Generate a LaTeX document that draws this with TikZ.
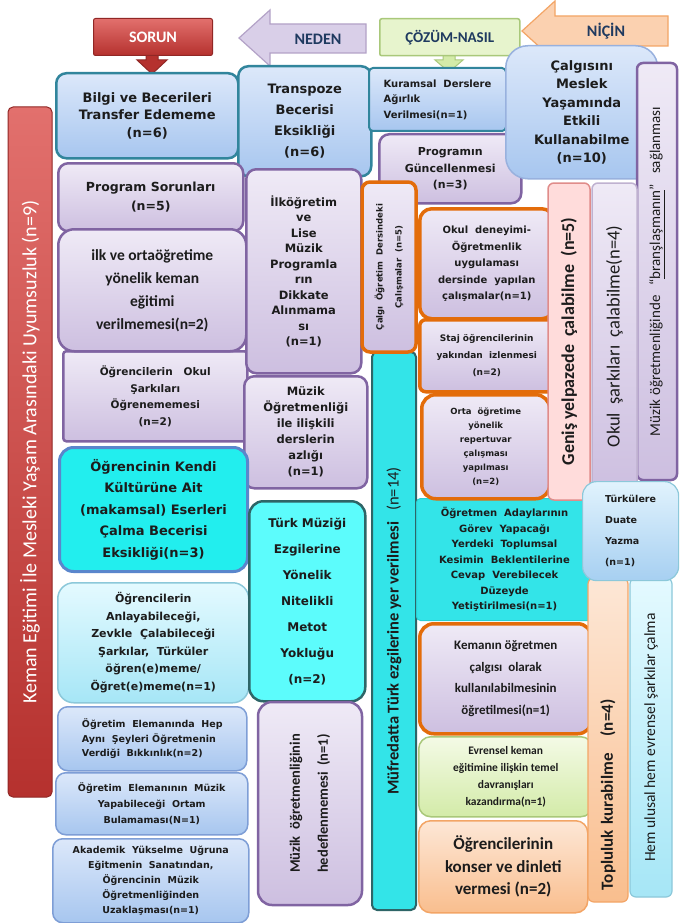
\documentclass[tikz,border=0pt]{standalone}
\usepackage{fontspec}
\setmainfont{Carlito}
\newfontfamily\verd{DejaVu Sans}
\newcommand\vfont[2]{\verd\bfseries\fontsize{#1}{#2}\selectfont}
\newcommand\cfontb[2]{\bfseries\fontsize{#1}{#2}\selectfont}
\newcommand\cfontr[2]{\fontsize{#1}{#2}\selectfont}
\definecolor{tealb}{HTML}{31859C}
\definecolor{sky1}{HTML}{DCE8FA}
\definecolor{sky2}{HTML}{A7C6EF}
\definecolor{skyb}{HTML}{7E9ED6}
\definecolor{purpb}{HTML}{8064A2}
\definecolor{lav1}{HTML}{EFEAF6}
\definecolor{lav2}{HTML}{CDBFE0}
\definecolor{orb}{HTML}{E36C0A}
\definecolor{cyanf}{HTML}{22EEEE}
\definecolor{cyanb}{HTML}{5A86CC}
\definecolor{cyanbar}{HTML}{33E4E8}
\definecolor{aqua1}{HTML}{E4FAFF}
\definecolor{aqua2}{HTML}{A6E6F6}
\definecolor{aquab}{HTML}{8CC8DA}
\definecolor{turkf}{HTML}{5CFCFC}
\definecolor{darkteal}{HTML}{2E6567}
\definecolor{green1}{HTML}{F4FAE6}
\definecolor{green2}{HTML}{D3EBA8}
\definecolor{greenb}{HTML}{A9C87A}
\definecolor{peach1}{HTML}{FDE7D6}
\definecolor{peach2}{HTML}{F9BE8E}
\definecolor{peachb}{HTML}{F3A566}
\definecolor{pink1}{HTML}{FFDCDB}
\definecolor{pinkb}{HTML}{E08C8A}
\definecolor{red1}{HTML}{E2706D}
\definecolor{red2}{HTML}{B5312E}
\definecolor{navy}{HTML}{1F3A60}
\definecolor{txt}{HTML}{1C1C1C}
\tikzset{
    sz/.style 2 args={minimum width=#1pt, minimum height=#2pt},
    blk/.style={
        anchor=north west,
        rounded corners=10pt,
        line width=2.5pt,
        align=center,
        inner sep=2pt,
        text=txt,
    },
    vbar/.style={
        anchor=center,
        rotate=90,
        align=center,
        inner sep=1pt,
        text=txt,
    },
    tealbox/.style={blk, draw=tealb, top color=sky1, bottom color=sky2},
    purpbox/.style={blk, draw=purpb, top color=lav1, bottom color=lav2},
    orbox/.style={blk, draw=orb, line width=3.5pt, top color=lav1, bottom color=lav2},
    skybox/.style={blk, draw=skyb, line width=1.5pt, top color=sky1, bottom color=sky2},
    aquabox/.style={blk, draw=aquab, line width=1.5pt, top color=aqua1, bottom color=aqua2},
    hdtxt/.style={text=navy, font=\cfontb{16}{18}},
}
\begin{document}
\begin{tikzpicture}[x=1pt,y=-1pt]
\useasboundingbox (0,0) rectangle (680,923);
\fill[white] (0,0) rectangle (680,923);

\node[vbar, sz={690}{44}, draw=red2!80!black, line width=1pt, rounded corners=5pt, top color=red1, bottom color=red2, text=white, font=\cfontr{20}{24}] (uyum) at (30,452) {Keman Eğitimi İle Mesleki Yaşam Arasındaki Uyumsuzluk (n=9)};

\draw[line width=1.2pt, draw=purpb!60, fill=lav2!75] (239,38) -- (270,10) -- (270,24) -- (366,24) -- (366,53) -- (270,53) -- (270,66) -- cycle;
\node[hdtxt] (neden) at (318,39) {NEDEN};
\draw[line width=1.2pt, draw=peachb, fill=peach2!70] (522,31) -- (555,1) -- (555,16) -- (668,16) -- (668,46) -- (555,46) -- (555,61) -- cycle;
\node[hdtxt] (nicin) at (606,31) {NİÇİN};
\draw[line width=1pt, draw=red2!80!black, fill=red2] (146,55) -- (158,55) -- (158,60) -- (167,60) -- (152,74) -- (137,60) -- (146,60) -- cycle;
\node[blk, draw=red2!80!black, line width=1pt, top color=red1, bottom color=red2, rounded corners=2pt, sz={119}{37}, text=white, font=\cfontb{16}{18}] (sorun) at (93,18) {SORUN};
\draw[line width=1pt, draw=greenb, fill=green2] (443,55) -- (455,55) -- (455,60) -- (463,60) -- (449,72) -- (435,60) -- (443,60) -- cycle;
\node[blk, draw=greenb, line width=1.5pt, fill=green1!60!green2, rounded corners=2pt, sz={140}{37}, text=navy, font=\cfontb{15}{18}] (cozum) at (379,18) {ÇÖZÜM-NASIL};

\node[tealbox, sz={182}{85}, font=\vfont{13}{17.5}] (bilgi) at (55,72) {Bilgi ve Becerileri\\Transfer Edememe\\(n=6)};
\node[tealbox, sz={133}{110}, font=\vfont{13}{21}] (transpoze) at (237,65) {Transpoze\\Becerisi\\Eksikliği\\(n=6)};
\node[purpbox, sz={185}{68}, font=\vfont{12.5}{19}] (progsor) at (57,162) {Program Sorunları\\(n=5)};
\node[purpbox, sz={184}{90}, rounded corners=3pt, font=\vfont{10.5}{16.5}] (okulsark) at (62,350) {Öğrencilerin\ \ \ Okul\\Şarkıları\\Öğrenememesi\\(n=2)};
\node[purpbox, sz={188}{122}, rounded corners=16pt, font=\cfontb{15.5}{23}] (ilkorta) at (57,228) {ilk ve ortaöğretime\\yönelik keman\\eğitimi\\verilmemesi(n=2)};
\node[purpbox, sz={115}{204}, font=\vfont{11.5}{15.5}] (ilkogr) at (245,168) {İlköğretim\\ve\\Lise\\Müzik\\Programla\\rın\\Dikkate\\Alınmama\\sı\\(n=1)};
\node[purpbox, sz={123}{112}, font=\vfont{11.5}{16}] (mzkders) at (243,375) {Müzik\\Öğretmenliği\\ile ilişkili\\derslerin\\azlığı\\(n=1)};
\node[blk, draw=cyanb, fill=cyanf, line width=3pt, rounded corners=14pt, sz={188}{124}, font=\vfont{13}{21.5}] (kendi) at (58,446) {Öğrencinin Kendi\\Kültürüne Ait\\(makamsal) Eserleri\\Çalma Becerisi\\Eksikliği(n=3)};
\node[aquabox, sz={191}{120}, rounded corners=16pt, font=\vfont{11}{17.5}] (anlay) at (57,582) {Öğrencilerin\\Anlayabileceği,\\Zevkle\ \ Çalabileceği\\Şarkılar,\ \ Türküler\\öğren(e)meme/\\Öğret(e)meme(n=1)};
\node[skybox, sz={189}{64}, align=left, font=\vfont{9.5}{14.5}] (hep) at (57,706) {Öğretim\ \ Elemanında\ \ Hep\\Aynı\ \ Şeyleri Öğretmenin\\Verdiği\ \ Bıkkınlık(n=2)};
\node[skybox, sz={192}{62}, font=\vfont{9.5}{16}] (ortam) at (55,772) {Öğretim\ \ Elemanının\ \ Müzik\\Yapabileceği\ \ Ortam\\Bulamaması(N=1)};
\node[skybox, sz={196}{84}, font=\vfont{9.5}{15}] (akad) at (52,838) {Akademik\ \ Yükselme\ \ Uğruna\\Eğitmenin\ \ Sanatından,\\Öğrencinin\ \ Müzik\\Öğretmenliğinden\\Uzaklaşması(n=1)};
\node[blk, draw=darkteal, fill=turkf, rounded corners=14pt, sz={116}{200}, font=\vfont{12}{26}] (turk) at (248,500) {Türk Müziği\\Ezgilerine\\Yönelik\\Nitelikli\\Metot\\Yokluğu\\(n=2)};
\node[purpbox, vbar, sz={203}{104}, rounded corners=14pt, font=\cfontb{14.5}{28}] (hedef) at (310,803.5) {Müzik\ \ öğretmenliğinin\\hedeflenmemesi\ \ (n=1)};

\node[tealbox, line width=2pt, rounded corners=4pt, sz={137}{63}, align=left, font=\vfont{10}{15.5}] (kuram) at (368,67) {Kuramsal\ \ Derslere\\Ağırlık\\Verilmesi(n=1)};
\node[purpbox, sz={142}{69}, font=\vfont{11}{16.5}] (progun) at (378,133) {Programın\\Güncellenmesi\\(n=3)};
\node[vbar, draw=darkteal, fill=cyanbar, line width=2pt, sz={558}{44}, rounded corners=5pt, font=\cfontr{16.5}{20}] (mufred) at (394,631) {\textbf{Müfredatta Türk ezgilerine yer verilmesi}\ \ \ (n=14)};
\node[orbox, vbar, sz={170}{54}, rounded corners=8pt, font=\vfont{8.5}{19}] (calgi) at (389,267) {Çalgı\ \ Öğretim\ \ Dersindeki\\Çalışmalar\ \ (n=5)};
\node[orbox, sz={134}{110}, rounded corners=12pt, font=\vfont{10}{16.5}] (okuldeney) at (418,207) {Okul\ \ deneyimi-\\Öğretmenlik\\uygulaması\\dersinde\ \ yapılan\\çalışmalar(n=1)};
\node[orbox, sz={134}{72}, rounded corners=6pt, font=\vfont{9}{17}] (staj) at (418,318) {Staj öğrencilerinin\\yakından\ \ izlenmesi\\(n=2)};
\node[blk, draw=cyanbar!80!teal, fill=cyanbar, line width=1pt, rounded corners=4pt, sz={176}{122}, font=\vfont{10}{15.5}] (aday) at (416,498) {Öğretmen\ \ Adaylarının\\Görev\ \ Yapacağı\\Yerdeki\ \ Toplumsal\\Kesimin\ \ Beklentilerine\\Cevap\ \ Verebilecek\\Düzeyde\\Yetiştirilmesi(n=1)};
\node[orbox, sz={128}{104}, rounded corners=14pt, font=\vfont{8.5}{14}] (ortaogr) at (420,393) {Orta\ \ öğretime\\yönelik\\repertuvar\\çalışması\\yapılması\\(n=2)};
\node[orbox, sz={172}{110}, rounded corners=14pt, font=\cfontb{13}{21.5}] (kemanogr) at (418,622) {Kemanın öğretmen\\çalgısı\ \ olarak\\kullanılabilmesinin\\öğretilmesi(n=1)};
\node[blk, draw=greenb, line width=1.5pt, top color=green1, bottom color=green2, rounded corners=12pt, sz={174}{80}, font=\cfontb{11.5}{17}] (evrensel) at (418,736) {Evrensel keman\\eğitimine ilişkin temel\\davranışları\\kazandırma(n=1)};
\node[blk, draw=peachb, line width=1.5pt, top color=peach1, bottom color=peach2, rounded corners=12pt, sz={169}{92}, font=\cfontb{17}{22.5}] (konser) at (418,820) {Öğrencilerinin\\konser ve dinleti\\vermesi (n=2)};

\node[blk, draw=skyb!80, line width=1.5pt, top color=sky1, bottom color=sky2, rounded corners=22pt, sz={152}{133}, font=\vfont{13}{18.5}] (calgisini) at (505,45) {Çalgısını\\Meslek\\Yaşamında\\Etkili\\Kullanabilme\\(n=10)};
\node[purpbox, vbar, sz={417}{40}, rounded corners=6pt, font=\cfontr{15}{18}] (brans) at (657,271.5) {Müzik öğretmenliğinde\ \ \ “\underline{branşlaşmanın}”\ \ \ sağlanması};
\node[vbar, draw=pinkb, line width=1.5pt, fill=pink1, sz={317}{42}, rounded corners=6pt, font=\cfontb{18}{20}] (genis) at (569,341.5) {Geniş yelpazede\ \ çalabilme\ \ (n=5)};
\node[vbar, draw=purpb!50, line width=1.5pt, top color=lav1, bottom color=lav2, sz={307}{45}, rounded corners=6pt, font=\cfontr{18.5}{20}] (okulsk) at (614.5,336.5) {Okul\ \ şarkıları\ \ çalabilme(n=4)};
\node[vbar, draw=peachb, line width=1.2pt, top color=peach1, bottom color=peach2, sz={324}{40}, rounded corners=6pt, text width=300pt, align=left, font=\cfontb{17}{20}] (topluluk) at (608,740) {Topluluk kurabilme\ \ \ (n=4)};
\node[vbar, draw=aquab, line width=1.2pt, top color=aqua1, bottom color=aqua2, sz={319}{42}, rounded corners=6pt, font=\cfontr{15.5}{18}] (hemulusal) at (651,737.5) {Hem ulusal hem evrensel şarkılar çalma};
\node[aquabox, line width=1.2pt, top color=aqua1!60!sky1, bottom color=sky2!70!aqua2, rounded corners=14pt, sz={96}{99}, align=left, font=\vfont{9.5}{21}] (turkule) at (582,481) {Türkülere\\Duate\\Yazma\\(n=1)};
\end{tikzpicture}
\end{document}
